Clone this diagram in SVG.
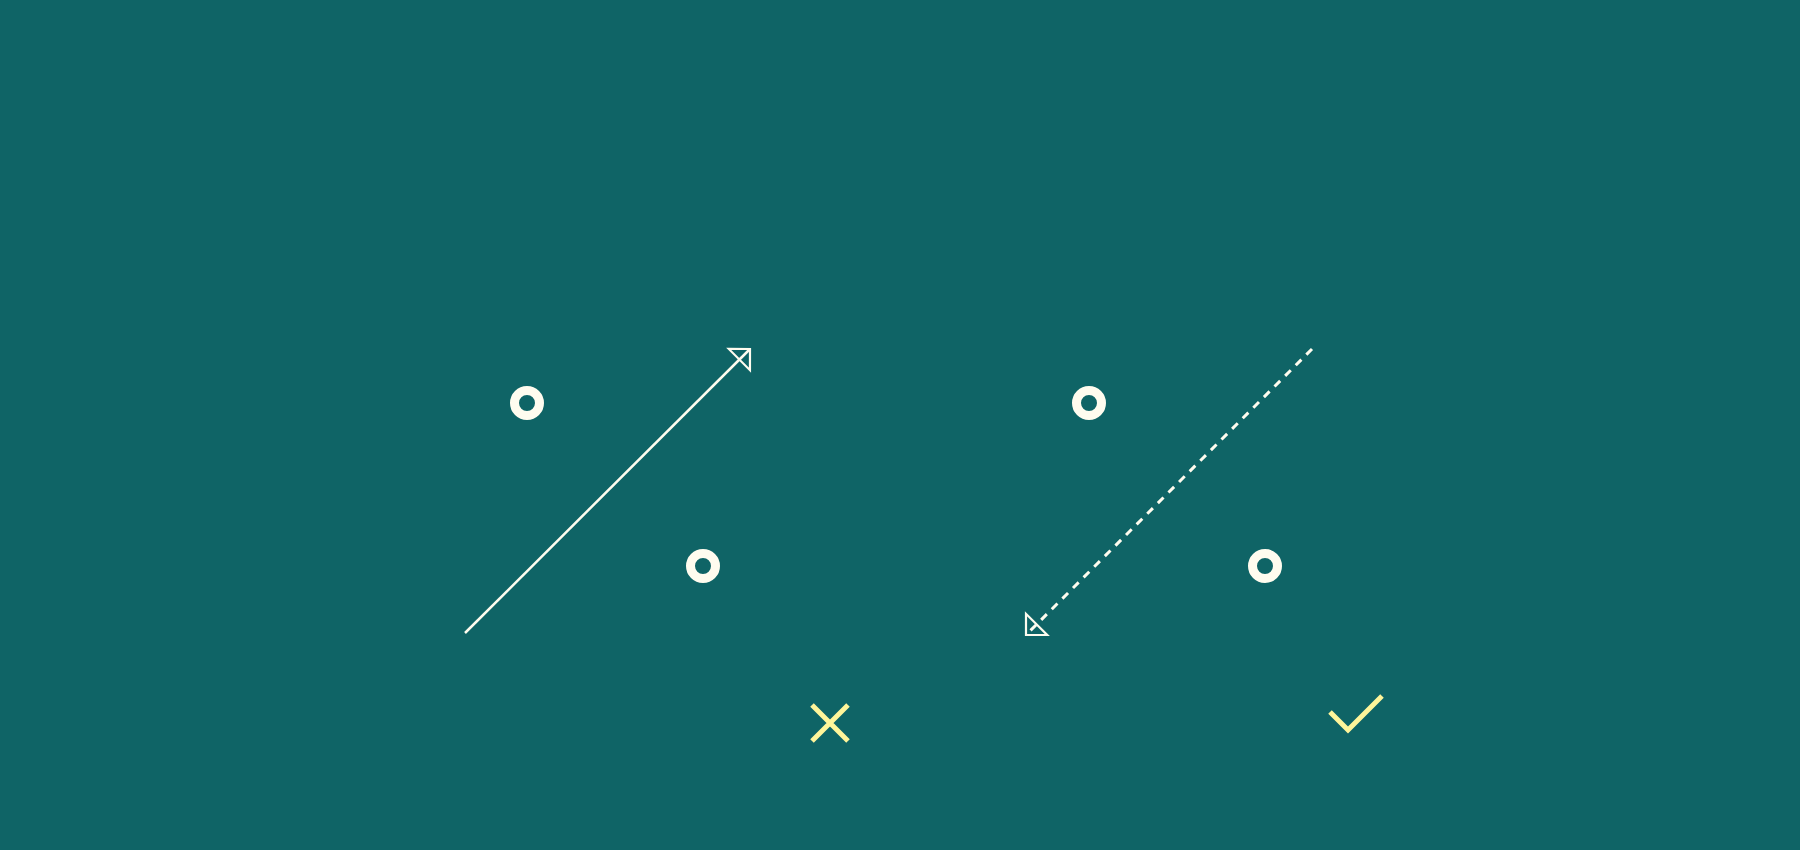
<svg xmlns="http://www.w3.org/2000/svg" width="1800" height="850" viewBox="0 0 1800 850">
  <style>
    .bg { fill: #0f6466; }
    .dot { fill: none; stroke: #fffcef; stroke-width: 9; }
    .conn { fill: none; stroke: #fffcef; stroke-width: 2.5; }
    .dash { stroke-dasharray: 8 7; stroke-width: 3; }
    .mark { fill: none; stroke: #fff59a; stroke-width: 5; }
  </style>
  <defs>
    <marker id="open" markerUnits="userSpaceOnUse" viewBox="-4 -20 26 40" markerWidth="26" markerHeight="40" refX="15" refY="0" orient="auto">
      <path d="M0,-15 L15,0 L0,15 Z" fill="none" stroke="#fffcef" stroke-width="2.2" stroke-dasharray="none"/>
    </marker>
  </defs>
  <rect class="bg" x="0" y="0" width="1800" height="850"/>
  <g id="connectors">
    <line class="conn" x1="465" y1="633" x2="750" y2="349" marker-end="url(#open)"/>
    <line class="conn dash" x1="1312" y1="349" x2="1026" y2="635" marker-end="url(#open)"/>
  </g>
  <g id="node-left-a"><circle class="dot" cx="527" cy="403" r="12.5"/></g>
  <g id="node-left-b"><circle class="dot" cx="703" cy="566" r="12.5"/></g>
  <g id="node-right-a"><circle class="dot" cx="1089" cy="403" r="12.5"/></g>
  <g id="node-right-b"><circle class="dot" cx="1265" cy="566" r="12.5"/></g>
  <g id="cross-mark">
    <path class="mark" d="M812,705 L848,741 M848,705 L812,741"/>
  </g>
  <g id="check-mark">
    <path class="mark" d="M1330,712 L1348,730 L1382,696"/>
  </g>
</svg>
